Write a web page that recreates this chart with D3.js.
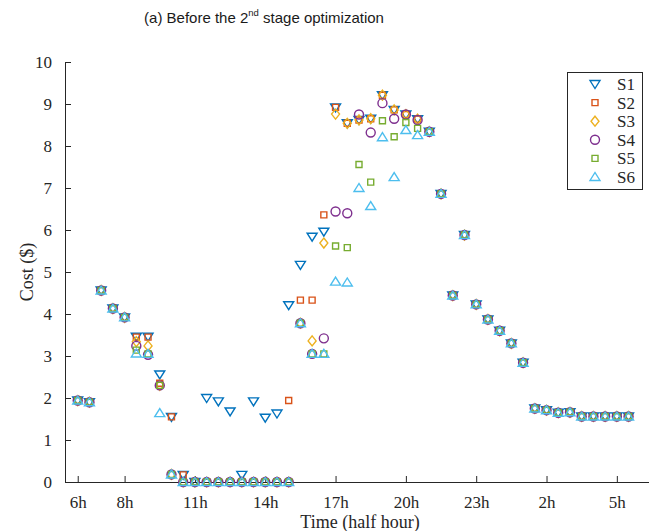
<!DOCTYPE html>
<html>
<head>
<meta charset="utf-8" />
<title>Before the 2nd stage optimization</title>
<script src="https://d3js.org/d3.v7.min.js"></script>
<style>
body { margin: 0; background: #fff; }
.axis text { font-family: "Liberation Serif", "Times New Roman", serif; font-size: 17px; fill: #262626; }
.axis path, .axis line { stroke: #262626; stroke-width: 1; }
</style>
</head>
<body>
<div id="chart"></div>
<script>

// half hour slots, 1 = 6h ... 48 = 5h30
var slots = d3.range(1, 49)
var tickSlots = [1, 5, 11, 17, 23, 29, 35, 41, 47]
var tickLabels = ["6h", "8h", "11h", "14h", "17h", "20h", "23h", "2h", "5h"]
var yTicks = [0, 1, 2, 3, 4, 5, 6, 7, 8, 9, 10]
var seriesNames = ["S1", "S2", "S3", "S4", "S5", "S6"]

var s1 = [1.94, 1.90, 4.56, 4.13, 3.92, 3.46, 3.46, 2.56, 1.55, 0.17,
          0, 2.00, 1.92, 1.68, 0.17, 1.92, 1.53, 1.63, 4.21, 5.17,
          5.84, 5.96, 8.92, 8.54, 8.62, 8.65, 9.21, 8.86, 8.75, 8.64,
          8.34, 6.86, 4.44, 5.88, 4.23, 3.87, 3.60, 3.30, 2.84, 1.75,
          1.71, 1.65, 1.66, 1.56, 1.56, 1.56, 1.56, 1.56]
var s2 = [1.94, 1.90, 4.56, 4.13, 3.92, 3.45, 3.45, 2.35, 1.55, 0.17,
          0, 0, 0, 0, 0, 0, 0, 0, 1.94, 4.33,
          4.33, 6.36, 8.92, 8.54, 8.62, 8.65, 9.21, 8.86, 8.75, 8.64,
          8.34, 6.86, 4.44, 5.88, 4.23, 3.87, 3.60, 3.30, 2.84, 1.75,
          1.71, 1.65, 1.66, 1.56, 1.56, 1.56, 1.56, 1.56]
var s3 = [1.94, 1.90, 4.56, 4.13, 3.92, 3.34, 3.24, 2.30, 0.18, 0,
          0, 0, 0, 0, 0, 0, 0, 0, 0, 3.78,
          3.36, 5.69, 8.76, 8.54, 8.62, 8.65, 9.21, 8.86, 8.75, 8.64,
          8.34, 6.86, 4.44, 5.88, 4.23, 3.87, 3.60, 3.30, 2.84, 1.75,
          1.71, 1.65, 1.66, 1.56, 1.56, 1.56, 1.56, 1.56]
var s4 = [1.94, 1.90, 4.56, 4.13, 3.92, 3.24, 3.03, 2.30, 0.18, 0,
          0, 0, 0, 0, 0, 0, 0, 0, 0, 3.78,
          3.05, 3.42, 6.44, 6.40, 8.75, 8.32, 9.02, 8.65, 8.75, 8.62,
          8.34, 6.86, 4.44, 5.88, 4.23, 3.87, 3.60, 3.30, 2.84, 1.75,
          1.71, 1.65, 1.66, 1.56, 1.56, 1.56, 1.56, 1.56]
var s5 = [1.94, 1.90, 4.56, 4.13, 3.92, 3.14, 3.05, 2.30, 0.18, 0,
          0, 0, 0, 0, 0, 0, 0, 0, 0, 3.78,
          3.05, 3.05, 5.62, 5.58, 7.56, 7.14, 8.60, 8.22, 8.56, 8.42,
          8.34, 6.86, 4.44, 5.88, 4.23, 3.87, 3.60, 3.30, 2.84, 1.75,
          1.71, 1.65, 1.66, 1.56, 1.56, 1.56, 1.56, 1.56]
var s6 = [1.94, 1.90, 4.56, 4.13, 3.92, 3.06, 3.05, 1.64, 0.18, 0,
          0, 0, 0, 0, 0, 0, 0, 0, 0, 3.78,
          3.05, 3.05, 4.77, 4.75, 7.00, 6.57, 8.21, 7.26, 8.38, 8.26,
          8.34, 6.86, 4.44, 5.88, 4.23, 3.87, 3.60, 3.30, 2.84, 1.75,
          1.71, 1.65, 1.66, 1.56, 1.56, 1.56, 1.56, 1.56]

var seriesValues = [s1, s2, s3, s4, s5, s6]
var colors = ["#0072BD", "#D95319", "#EDB120", "#7E2F8E", "#77AC30", "#4DBEEE"]

// marker path generators, centred on 0,0
var markers = [
  function() { return "M-5,-3.5L5,-3.5L0,4.5Z" },             // triangle down
  function() { return "M-3,-3L3,-3L3,3L-3,3Z" },              // small square
  function() { return "M0,-5L4,0L0,5L-4,0Z" },                // diamond
  function() { return "M4.5,0A4.5,4.5 0 1,1 -4.5,0A4.5,4.5 0 1,1 4.5,0Z" }, // circle
  function() { return "M-3,-3L3,-3L3,3L-3,3Z" },              // small square
  function() { return "M-5,3.5L5,3.5L0,-4.5Z" }               // triangle up
]

var width = 660, height = 531
var margin = {left: 65, right: 8, top: 62, bottom: 49}

var svg = d3.select("#chart").append("svg")
    .attr("width", width)
    .attr("height", height)

var x = d3.scaleLinear()
    .domain([0, 50])
    .range([66, 652])

var y = d3.scaleLinear()
    .domain([0, 10])
    .range([482, 62])

// title
var title = svg.append("text")
    .attr("x", 264)
    .attr("y", 23)
    .attr("text-anchor", "middle")
    .style("font-family", "'Liberation Sans', Arial, sans-serif")
    .style("font-size", "15px")
    .attr("fill", "#1a1a1a")
title.append("tspan").text("(a) Before the 2")
title.append("tspan").text("nd").attr("font-size", "9.5px").attr("dy", -7)
title.append("tspan").text(" stage optimization").attr("dy", 7)

// axes, ticks point inward
var xAxis = d3.axisBottom(x)
    .tickValues(tickSlots)
    .tickFormat(function(d, i) { return tickLabels[i] })
    .tickSizeInner(-6)
    .tickSizeOuter(0)
    .tickPadding(14)

svg.append("g")
    .attr("class", "axis")
    .attr("transform", "translate(0," + y(0) + ")")
    .call(xAxis)
    .select(".domain").attr("d", "M65,0.5H649")

var yAxis = d3.axisLeft(y)
    .tickValues(yTicks)
    .tickSizeInner(-6)
    .tickSizeOuter(0)
    .tickPadding(13)

svg.append("g")
    .attr("class", "axis")
    .attr("transform", "translate(" + margin.left + ",0)")
    .call(yAxis)

svg.append("text")
    .text("Time (half hour)")
    .attr("x", 360)
    .attr("y", 528)
    .attr("text-anchor", "middle")
    .style("font-family", "'Liberation Serif', 'Times New Roman', serif")
    .style("font-size", "18px")
    .attr("fill", "#262626")

svg.append("text")
    .text("Cost ($)")
    .attr("text-anchor", "middle")
    .style("font-family", "'Liberation Serif', 'Times New Roman', serif")
    .style("font-size", "18px")
    .attr("fill", "#262626")
    .attr("transform", "translate(33," + y(5) + ") rotate(-90)")

// points
seriesValues.forEach(function(values, k) {
  svg.append("g")
    .attr("class", "series_" + seriesNames[k])
    .selectAll("path")
    .data(values)
    .enter()
    .append("path")
    .attr("d", markers[k])
    .attr("transform", function(d, i) { return "translate(" + x(slots[i]) + "," + y(d) + ")" })
    .attr("fill", "none")
    .attr("stroke", colors[k])
    .attr("stroke-width", 1.4)
})

// legend
var legend = svg.append("g")
    .attr("transform", "translate(567,72)")

legend.append("rect")
    .attr("x", 0.5)
    .attr("y", 0.5)
    .attr("width", 75)
    .attr("height", 117)
    .attr("fill", "white")
    .attr("stroke", "#262626")
    .attr("stroke-width", 1)

seriesNames.forEach(function(name, k) {
  var row = legend.append("g")
      .attr("transform", "translate(28," + (12 + k * 18.6) + ")")
  row.append("path")
      .attr("d", markers[k])
      .attr("fill", "none")
      .attr("stroke", colors[k])
      .attr("stroke-width", 1.4)
  row.append("text")
      .text(name)
      .attr("x", 22)
      .attr("y", 6)
      .style("font-family", "'Liberation Serif', 'Times New Roman', serif")
      .style("font-size", "17px")
      .attr("fill", "#262626")
})

</script>
</body>
</html>
